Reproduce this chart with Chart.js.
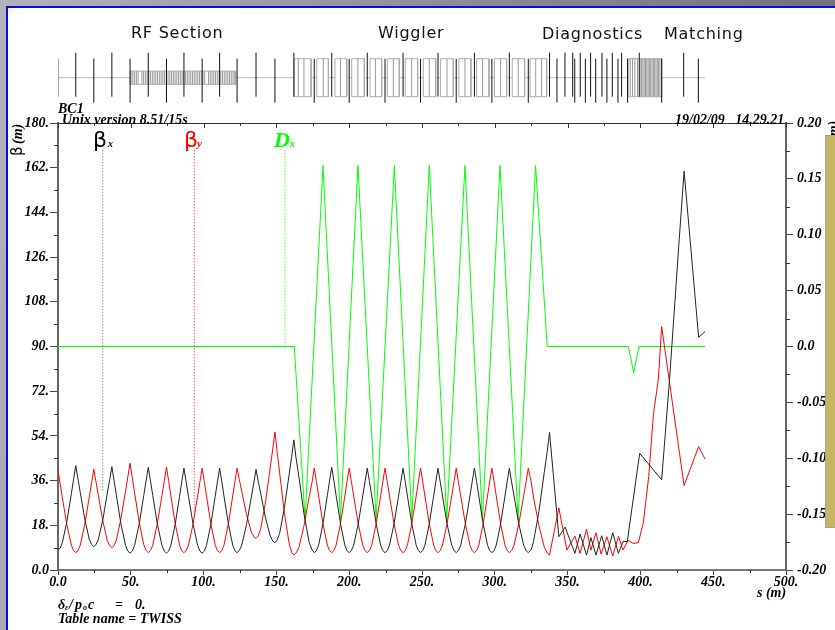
<!DOCTYPE html>
<html>
<head>
<meta charset="utf-8">
<title>BC1 Twiss</title>
<script src="https://cdn.jsdelivr.net/npm/chart.js@4/dist/chart.umd.min.js"></script>
<style>
  html, body { margin: 0; padding: 0; }
  body { position: relative; width: 835px; height: 630px; overflow: hidden;
         background: linear-gradient(100deg, #b4b2ba 0%, #8d8b96 50%, #6c6a74 100%); }
  #sheet { position: absolute; left: 6px; top: 6px; width: 829px; height: 624px; background: #fff;
           border-left: 2px solid #0a0af0; border-top: 2px solid #0a0af0; box-sizing: border-box; }
  canvas { position: absolute; left: 0; filter: blur(0.35px); }
  #main { top: 0; }
  #lattice { top: 40px; }
  .section { position: absolute; font: 16px "DejaVu Sans"; letter-spacing: 0.75px; color: #111; white-space: nowrap; }
  #tan { position: absolute; left: 825px; top: 135px; width: 10px; height: 393px; box-sizing: border-box;
         background: #c8b562; border: 1px solid #9dab8c; border-right: 0; }
</style>
</head>
<body>
<div id="sheet"></div>
<canvas id="lattice" width="835" height="70"></canvas>
<canvas id="main" width="835" height="630"></canvas>
<div class="section" style="left:131px;top:23px">RF Section</div>
<div class="section" style="left:378px;top:23px">Wiggler</div>
<div class="section" style="left:542px;top:24px">Diagnostics</div>
<div class="section" style="left:664px;top:24px">Matching</div>
<div id="tan"></div>
<script>
// s positions of the FODO part, shared by both beta curves
const sCells = [
  0, 1.5, 3, 6.1, 9.2, 10.7, 12.2,
  13.7, 15.3, 18.4, 21.5, 23.1, 24.6,
  26.1, 27.7, 30.8, 33.9, 35.5, 37,
  38.5, 40.1, 43.2, 46.4, 48, 49.5,
  51, 52.6, 55.8, 58.9, 60.5, 62,
  63.5, 65.1, 68.2, 71.4, 73, 74.5,
  76, 77.5, 80.5, 83.5, 85, 86.5,
  88, 89.6, 92.8, 95.9, 97.5, 99,
  100.5, 102, 105, 108, 109.5, 111,
  112.5, 114, 117, 120, 121.5, 123,
  124.5, 126.2, 129.5, 132.8, 134.5, 136,
  137.5, 139.2, 142.5, 145.8, 147.5, 149,
  150.5, 152.2, 155.5, 158.8, 160.5, 162,
  163.5, 165.5, 169, 172.5, 174.5, 176,
  177.5, 179, 182, 185, 186.5, 188,
  189.5, 191, 194, 197, 198.5, 200,
  201.5, 203.1, 206.2, 209.3, 210.9, 212.4,
  213.9, 215.5, 218.5, 221.6, 223.1, 224.6,
  226.1, 227.7, 230.8, 233.9, 235.5, 237,
  238.5, 240, 243, 246, 247.5, 249,
  250.5, 252, 255, 258, 259.5, 261,
  262.5, 264.1, 267.2, 270.4, 272, 273.5,
  275, 276.6, 279.8, 282.9, 284.5, 286,
  287.5, 289, 292, 295, 296.5, 298,
  299.5, 301, 304, 307, 308.5, 310,
  311.5, 313.2, 316.5, 319.8, 321.5, 323,
  325, 326.6, 330.3, 334, 336, 337.6
];
const betaXCells = [
  8, 8.8, 11, 19.6, 30.8, 36.6, 42,
  36.8, 31.2, 20.5, 12.3, 10.2, 9.4,
  10.2, 12.3, 20.3, 31, 36.4, 41.6,
  36, 30.1, 18.6, 9.9, 7.6, 6.8,
  7.6, 9.9, 18.6, 30, 35.9, 41.4,
  35.9, 30, 18.6, 9.9, 7.6, 6.8,
  7.6, 9.9, 18.4, 29.7, 35.5, 41,
  35.5, 29.7, 18.4, 9.9, 7.6, 6.8,
  7.6, 9.9, 18.4, 29.7, 35.5, 41,
  35.6, 29.8, 18.6, 10, 7.8, 7,
  7.8, 10, 18.4, 29.4, 35.1, 40.5,
  35.8, 30.8, 21, 13.7, 11.7, 11,
  12, 14.7, 25.1, 38.7, 45.8, 52.4,
  45.1, 37.4, 22.4, 11.1, 8.1, 7,
  7.8, 10, 18.7, 30, 35.9, 41.4,
  35.9, 30, 18.7, 10, 7.8, 7,
  7.8, 10, 18.6, 29.8, 35.6, 41,
  35.6, 29.8, 18.6, 10, 7.8, 7,
  7.8, 10, 18.6, 29.8, 35.6, 41,
  35.6, 29.8, 18.6, 10, 7.8, 7,
  7.8, 10, 18.6, 29.8, 35.6, 41,
  35.6, 29.8, 18.6, 10, 7.8, 7,
  7.8, 10, 18.6, 29.8, 35.6, 41,
  35.6, 29.8, 18.6, 10, 7.8, 7,
  7.8, 10, 18.6, 29.8, 35.6, 41,
  35.6, 29.8, 18.6, 10, 7.8, 7,
  8.2, 11.4, 23.5, 39.4, 47.7, 55.4
];
const betaYCells = [
  40, 34.7, 29.1, 18.2, 10, 7.8, 7,
  7.8, 10, 18.4, 29.4, 35.1, 40.5,
  35.5, 30.1, 19.7, 11.8, 9.8, 9,
  9.8, 12, 20.6, 31.8, 37.6, 43,
  37.2, 31.1, 19.2, 10.2, 7.9, 7,
  7.8, 10, 18.7, 30, 35.9, 41.4,
  35.9, 30, 18.7, 10, 7.8, 7,
  7.8, 10, 18.6, 29.8, 35.6, 41,
  35.6, 29.8, 18.6, 10, 7.8, 7,
  7.8, 10, 18.6, 29.8, 35.6, 41,
  36.5, 31.7, 22.3, 15.2, 13.4, 12.7,
  13.7, 16.6, 27.3, 41.4, 48.7, 55.6,
  47.7, 39.2, 22.9, 10.5, 7.2, 6,
  6.8, 9.2, 17.9, 29.5, 35.4, 41,
  35.6, 29.8, 18.6, 10, 7.8, 7,
  7.8, 10, 18.6, 29.8, 35.6, 41,
  35.6, 29.8, 18.6, 10, 7.8, 7,
  7.8, 10, 18.6, 29.8, 35.6, 41,
  35.6, 29.8, 18.6, 10, 7.8, 7,
  7.8, 10, 18.6, 29.8, 35.6, 41,
  35.6, 29.8, 18.6, 10, 7.8, 7,
  7.8, 10, 18.6, 29.8, 35.6, 41,
  35.6, 29.8, 18.6, 10, 7.8, 7,
  7.8, 10, 18.6, 29.8, 35.6, 41,
  35.6, 29.8, 18.6, 10, 7.8, 7,
  7.8, 10, 18.6, 29.8, 35.6, 41,
  35.4, 29.3, 17.9, 9.2, 6.8, 6
];
// diagnostics and matching sections
const sTailX = [344, 348.3, 355, 358.6, 363, 366, 369.5, 373.4, 377, 381, 384.9, 388, 391, 399.5, 414.6, 420, 426, 430, 440, 444.4];
const betaXTail = [13.4, 17.3, 6.7, 14.5, 6, 13, 6, 13.8, 6, 15, 6.7, 11.4, 11.5, 47, 36.3, 76.6, 127.6, 160.6, 93.7, 96];
const sTailY = [344, 349.5, 355, 358.6, 363, 366, 369.5, 373, 377, 381, 385, 388, 391.7, 395, 398.6, 402, 405.7, 409, 412.3, 414.6, 430, 440, 444.4];
const betaYTail = [25, 8, 13.7, 6.7, 16.5, 8, 15, 6.4, 13.4, 5.6, 13.6, 8, 12, 10.7, 11, 19, 37.6, 63, 76.6, 98, 34, 49.7, 44.7];

const sDx = [0, 162.3, 169.7, 182, 194, 206, 218.5, 231, 243, 255, 267, 279.5, 291.5, 303.6, 316, 328, 336, 391.7, 395.4, 399, 444.4];
const dxValues = [0, 0, -0.155, 0.162, -0.155, 0.162, -0.155, 0.162, -0.155, 0.162, -0.155, 0.162, -0.155, 0.162, -0.155, 0.162, 0, 0, -0.0235, 0, 0];

// dotted legend droplines: s and beta range
const legendS = [30.7, 93.6, 156];
const legendTop = [169, 169, 169];
const legendBottom = [31.5, 21.5, 90];

const xTickLabels = ["0.0", "50.", "100.", "150.", "200.", "250.", "300.", "350.", "400.", "450.", "500."];
const betaTickLabels = ["0.0", "18.", "36.", "54.", "72.", "90.", "108.", "126.", "144.", "162.", "180."];
const dxTickLabels = ["-0.20", "-0.15", "-0.10", "-0.05", "0.0", "0.05", "0.10", "0.15", "0.20"];
const xMinor = [25, 75, 125, 175, 225, 275, 325, 375, 425, 475];
const betaMinor = [9, 27, 45, 63, 81, 99, 117, 135, 153, 171];
const dxMinor = [-0.175, -0.125, -0.075, -0.025, 0.025, 0.075, 0.125, 0.175];

// lattice elements along s
const quadsF = [12.2, 37, 62, 86.5, 111, 136, 162, 188, 212.4, 237, 261, 286, 310, 337.6, 348.2, 353.5, 358.7, 365.8, 373.6, 380.7, 387.1, 399.2, 429.7];
const quadsD = [24.6, 49.5, 74.5, 99, 123, 149, 176, 200, 224.6, 249, 273.5, 298, 323, 342.7, 354.9, 362.2, 369.3, 377, 384.6, 391.2, 414.6, 439.8];
const dipoleStart = [162.3, 177.7, 190.2, 201.7, 214.3, 226.2, 238.5, 250.9, 262.8, 275.3, 287.5, 299.7, 312, 324.2, 391.6];
const dipoleEnd = [173.8, 185.7, 198.3, 210.4, 222.3, 234.4, 247, 259.4, 271.5, 283.6, 296, 308.1, 320.5, 335.6, 414.6];
const dipoleSlices = [165, 168.9, 182.2, 194, 206, 218, 230.3, 242.9, 255, 267.2, 279.5, 291.6, 304, 316.1, 328.1, 332.2,
  393, 394.6, 396.2, 398, 399.8, 400.8, 401.7, 402.6, 403.5, 404.4, 405.3, 406.2, 407.1, 408, 408.9, 409.8, 410.7, 411.6, 412.5, 413.4];
const cavities = [50.2, 51.4, 52.6, 53.8, 55, 57.6, 58.8, 60, 61.2, 62.4, 63.6, 64.8, 66, 67.2, 68.4, 69.6, 70.8, 72, 73.2, 74.4,
  75.6, 76.8, 78, 79.2, 80.4, 81.6, 82.8, 84, 85.2, 86.4, 87.6, 88.8, 90, 91.2, 92.4, 93.6, 94.8, 96, 97.2, 98.4, 99.6, 100.8,
  103.4, 104.6, 105.8, 107, 108.2, 109.4, 110.6, 111.8, 113, 114.2, 115.4, 116.6, 117.8, 119, 120.2, 121.4];
const beamStart = [0, 122, 173.8, 185.7, 198.3, 210.4, 222.3, 234.4, 247, 259.4, 271.5, 283.6, 296, 308.1, 320.5, 335.6, 414.6];
const beamEnd = [49.5, 162.3, 177.7, 190.2, 201.7, 214.3, 226.2, 238.5, 250.9, 262.8, 275.3, 287.5, 299.7, 312, 324.2, 391.6, 444.4];

function zip(xs, ys) {
  return xs.map((x, i) => ({ x: x, y: ys[i] }));
}

function bars(list, lo, hi) {
  const out = [];
  list.forEach((s) => {
    out.push({ x: s, y: lo }, { x: s, y: hi }, { x: s, y: null });
  });
  return out;
}

function boxes(starts, ends, lo, hi) {
  const out = [];
  starts.forEach((s, i) => {
    out.push({ x: s, y: lo }, { x: s, y: hi }, { x: ends[i], y: hi }, { x: ends[i], y: lo }, { x: s, y: lo }, { x: s, y: null });
  });
  return out;
}

function beamline(starts, ends) {
  const out = [];
  starts.forEach((s, i) => {
    out.push({ x: s, y: 0 }, { x: ends[i], y: 0 }, { x: s, y: null });
  });
  return out;
}

function curve(data, color, axis, order) {
  return { data: data, borderColor: color, borderWidth: 1, pointRadius: 0, showLine: true, tension: 0, yAxisID: axis, order: order };
}

const serif = "'Liberation Serif'";
const tickFont = { family: "Liberation Serif", size: 14, weight: "bold", style: "italic" };

// minor ticks, the top frame line and all the little MAD texts
const frameAndText = {
  id: "frameAndText",
  afterDraw(chart) {
    const c = chart.ctx;
    const a = chart.chartArea;
    const sx = chart.scales.x, sy = chart.scales.y, sd = chart.scales.y2;
    c.save();
    c.strokeStyle = "#333";
    c.lineWidth = 1;
    c.beginPath();
    c.moveTo(a.left, a.top + 0.5);
    c.lineTo(a.right, a.top + 0.5);
    xTickLabels.forEach((t, i) => {
      const p = Math.round(sx.getPixelForValue(i * 50)) + 0.5;
      c.moveTo(p, a.top);
      c.lineTo(p, a.top + 5);
    });
    xMinor.forEach((v) => {
      const p = Math.round(sx.getPixelForValue(v)) + 0.5;
      c.moveTo(p, a.top);
      c.lineTo(p, a.top + 3);
      c.moveTo(p, a.bottom);
      c.lineTo(p, a.bottom + 3);
    });
    betaMinor.forEach((v) => {
      const p = Math.round(sy.getPixelForValue(v)) + 0.5;
      c.moveTo(a.left - 4, p);
      c.lineTo(a.left, p);
    });
    dxMinor.forEach((v) => {
      const p = Math.round(sd.getPixelForValue(v)) + 0.5;
      c.moveTo(a.right, p);
      c.lineTo(a.right + 4, p);
    });
    c.stroke();

    c.textBaseline = "alphabetic";
    const put = (txt, x, y, font, color) => {
      c.font = font;
      c.fillStyle = color || "#000";
      c.fillText(txt, x, y);
    };
    const small = "italic bold 14px " + serif;
    put("BC1", 58, 113, small);
    put("Unix version 8.51/15s", 62, 124, small);
    put("19/02/09   14.29.21", 675, 124, small);
    put("s (m)", 757, 597, small);
    put("Table name = TWISS", 58, 623, small);
    put("δ", 58, 609, small);
    put("ε", 65, 610, "italic bold 8px " + serif);
    put("/", 69, 609, small);
    put("p", 75, 609, small);
    put("o", 83, 610, "italic bold 8px " + serif);
    put("c", 88, 609, small);
    put("=", 115, 609, small);
    put("0.", 135, 609, small);

    put("β", 93, 147, "22px 'DejaVu Sans'");
    put("x", 108, 147, "italic bold 10px " + serif);
    put("β", 184, 147, "22px 'DejaVu Sans'", "#f00");
    put("y", 197, 147, "italic bold 11px " + serif, "#f00");
    put("D", 274, 147, "italic bold 22px " + serif, "#0f0");
    put("x", 290, 147, "italic bold 10px " + serif, "#0f0");

    c.save();
    c.translate(22, 156);
    c.rotate(-Math.PI / 2);
    put("β", 0, 0, "15px 'DejaVu Sans'");
    put("(m)", 12, 0, small);
    c.restore();
    c.save();
    c.translate(838, 141);
    c.rotate(-Math.PI / 2);
    put("(m)", 0, 0, small);
    c.restore();
    c.restore();
  },
};

document.addEventListener("DOMContentLoaded", () => {
  new Chart(document.getElementById("main").getContext("2d"), {
    type: "scatter",
    plugins: [frameAndText],
    data: {
      datasets: [
        curve(zip(sCells.concat(sTailY), betaYCells.concat(betaYTail)), "#f00", "y", 2),
        curve(zip(sCells.concat(sTailX), betaXCells.concat(betaXTail)), "#222", "y", 1),
        curve(zip(sDx, dxValues), "#0f0", "y2", 3),
        Object.assign(curve(zip([legendS[0], legendS[0]], [legendTop[0], legendBottom[0]]), "#555", "y", 4), { borderDash: [1, 2] }),
        Object.assign(curve(zip([legendS[1], legendS[1]], [legendTop[1], legendBottom[1]]), "#f00", "y", 4), { borderDash: [1, 2] }),
        Object.assign(curve(zip([legendS[2], legendS[2]], [legendTop[2], legendBottom[2]]), "#0f0", "y", 4), { borderDash: [1, 2] }),
      ],
    },
    options: {
      responsive: false,
      animation: false,
      layout: { padding: { top: 123, left: 0, right: 0, bottom: 0 } },
      plugins: { legend: { display: false }, tooltip: { enabled: false } },
      scales: {
        x: {
          type: "linear",
          min: 0,
          max: 500,
          afterFit: (s) => { s.height = 60; },
          grid: { drawOnChartArea: false, tickLength: 5, color: "#444" },
          border: { color: "#777", width: 2 },
          ticks: {
            stepSize: 50,
            maxRotation: 0,
            color: "#000",
            font: tickFont,
            padding: -1,
            callback: (v) => xTickLabels[v / 50],
          },
        },
        y: {
          position: "left",
          min: 0,
          max: 180,
          afterFit: (s) => { s.width = 58; },
          grid: { drawOnChartArea: false, tickLength: 8, color: "#444" },
          border: { color: "#666", width: 2 },
          ticks: {
            stepSize: 18,
            color: "#000",
            font: tickFont,
            padding: 1,
            callback: (v) => betaTickLabels[Math.round(v / 18)],
          },
        },
        y2: {
          position: "right",
          min: -0.2,
          max: 0.2,
          afterFit: (s) => { s.width = 49; },
          grid: { drawOnChartArea: false, tickLength: 7, color: "#444" },
          border: { color: "#666", width: 2 },
          ticks: {
            stepSize: 0.05,
            color: "#000",
            font: tickFont,
            padding: 4,
            callback: (v) => dxTickLabels[Math.round((v + 0.2) / 0.05)],
          },
        },
      },
    },
  });

  new Chart(document.getElementById("lattice").getContext("2d"), {
    type: "scatter",
    data: {
      datasets: [
        curve(beamline(beamStart, beamEnd), "#bbb", "y", 5),
        curve(boxes([cavities[0] - 0.7], [cavities[cavities.length - 1] + 0.6], -6.6, 6.6), "#aaa", "y", 4),
        curve(bars(cavities, -6.6, 6.6), "#999", "y", 4),
        curve(boxes(dipoleStart, dipoleEnd, -19, 19), "#aaa", "y", 3),
        curve(bars(dipoleSlices, -19, 19), "#999", "y", 3),
        curve(bars([0], -19, 19), "#555", "y", 1),
        curve(bars(quadsF, -19, 25), "#111", "y", 1),
        curve(bars(quadsD, -25, 19), "#111", "y", 1),
      ],
    },
    options: {
      responsive: false,
      animation: false,
      layout: { padding: { left: 58, right: 49, top: 0, bottom: 0 } },
      plugins: { legend: { display: false }, tooltip: { enabled: false } },
      scales: {
        x: { type: "linear", display: false, min: 0, max: 500 },
        y: { display: false, min: -32.3, max: 37.7 },
      },
    },
  });
});
</script>
</body>
</html>
